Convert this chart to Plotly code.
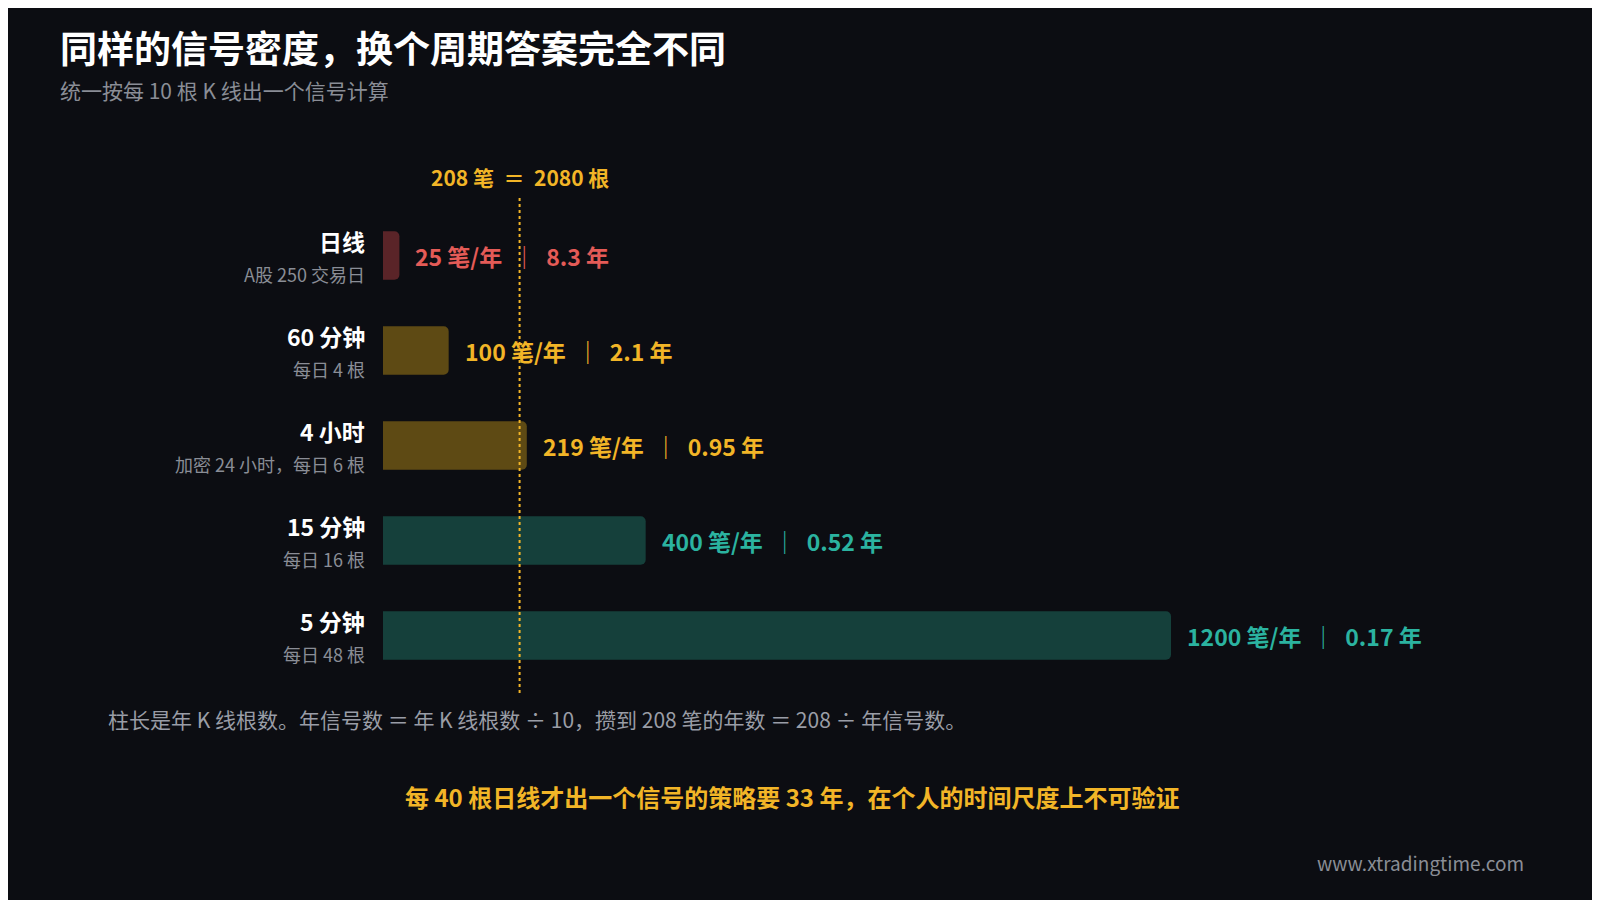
import plotly.graph_objects as go

names = ["日线", "60 分钟", "4 小时", "15 分钟", "5 分钟"]
subs = ["A股 250 交易日", "每日 4 根", "加密 24 小时，每日 6 根", "每日 16 根", "每日 48 根"]
bars_per_year = [250, 1000, 2190, 4000, 12000]
signals = [25, 100, 219, 400, 1200]
years = ["8.3", "2.1", "0.95", "0.52", "0.17"]
bar_colors = ["#5a2428", "#5e4a14", "#5e4a14", "#15403b", "#15403b"]
text_colors = ["#e45b57", "#f2b527", "#f2b527", "#2bb3a0", "#2bb3a0"]
target = 2080

FONT = "Noto Sans CJK SC"
bg = "#0c0d12"

fig = go.Figure(go.Bar(
    x=bars_per_year, y=names, orientation="h",
    marker=dict(color=bar_colors, cornerradius=5, line_width=0),
    width=0.51, hoverinfo="skip",
))

ann = []
for n, s, v, sg, yr, c in zip(names, subs, bars_per_year, signals, years, text_colors):
    ann.append(dict(x=0, y=n, xref="x", yref="y", xanchor="right", xshift=-16, yshift=15,
                    text="<b>" + n + "</b>", showarrow=False, font=dict(size=23, color="#ffffff")))
    ann.append(dict(x=0, y=n, xref="x", yref="y", xanchor="right", xshift=-16, yshift=-18,
                    text=s, showarrow=False, font=dict(size=18, color="#8a8d96")))
    ann.append(dict(x=v, y=n, xref="x", yref="y", xanchor="left", xshift=14,
                    text="<b>%d 笔/年  ｜  %s 年</b>" % (sg, yr), showarrow=False,
                    font=dict(size=23, color=c)))

ann += [
    dict(x=target, y=1.025, xref="x", yref="paper", yanchor="bottom", yshift=2,
         text="<b>208 笔  ＝  2080 根</b>", showarrow=False, font=dict(size=21, color="#f2b527")),
    dict(x=50, y=856, xref="paper", yref="paper", text="<b>同样的信号密度，换个周期答案完全不同</b>",
         showarrow=False, font=dict(size=37, color="#ffffff"), xanchor="left"),
    dict(x=50, y=813, text="统一按每 10 根 K 线出一个信号计算", showarrow=False,
         font=dict(size=21, color="#8a8d96"), xanchor="left"),
    dict(x=98, y=189, text="柱长是年 K 线根数。年信号数 ＝ 年 K 线根数 ÷ 10，攒到 208 笔的年数 ＝ 208 ÷ 年信号数。",
         showarrow=False, font=dict(size=21, color="#9a9da6"), xanchor="left"),
    dict(x=784, y=112, text="<b>每 40 根日线才出一个信号的策略要 33 年，在个人的时间尺度上不可验证</b>",
         showarrow=False, font=dict(size=24, color="#f2b527"), xanchor="center"),
    dict(x=1518, y=47, text="www.xtradingtime.com", showarrow=False,
         font=dict(size=19, color="#8a8d96"), xanchor="right"),
]
for a in ann:
    if "xref" not in a or a.get("xref") == "paper":
        a["xref"] = "paper"; a["yref"] = "paper"
        a["x"] = (a["x"] - 375) / (1600 - 375 - 240)
        a["y"] = (a["y"] - 225) / 471
        a["yanchor"] = "middle"

fig.update_layout(
    width=1600, height=900, paper_bgcolor=bg, plot_bgcolor=bg,
    margin=dict(l=375, r=240, t=200, b=225),
    font=dict(family=FONT),
    xaxis=dict(range=[0, 15000], visible=False, fixedrange=True),
    yaxis=dict(autorange="reversed", visible=False),
    showlegend=False, annotations=ann,
    shapes=[dict(type="line", x0=target, x1=target, xref="x", yref="paper", y0=-0.021, y1=1.025,
                 line=dict(color="#f2b527", width=2, dash="dot"))],
)
fig.write_html("out.html")
